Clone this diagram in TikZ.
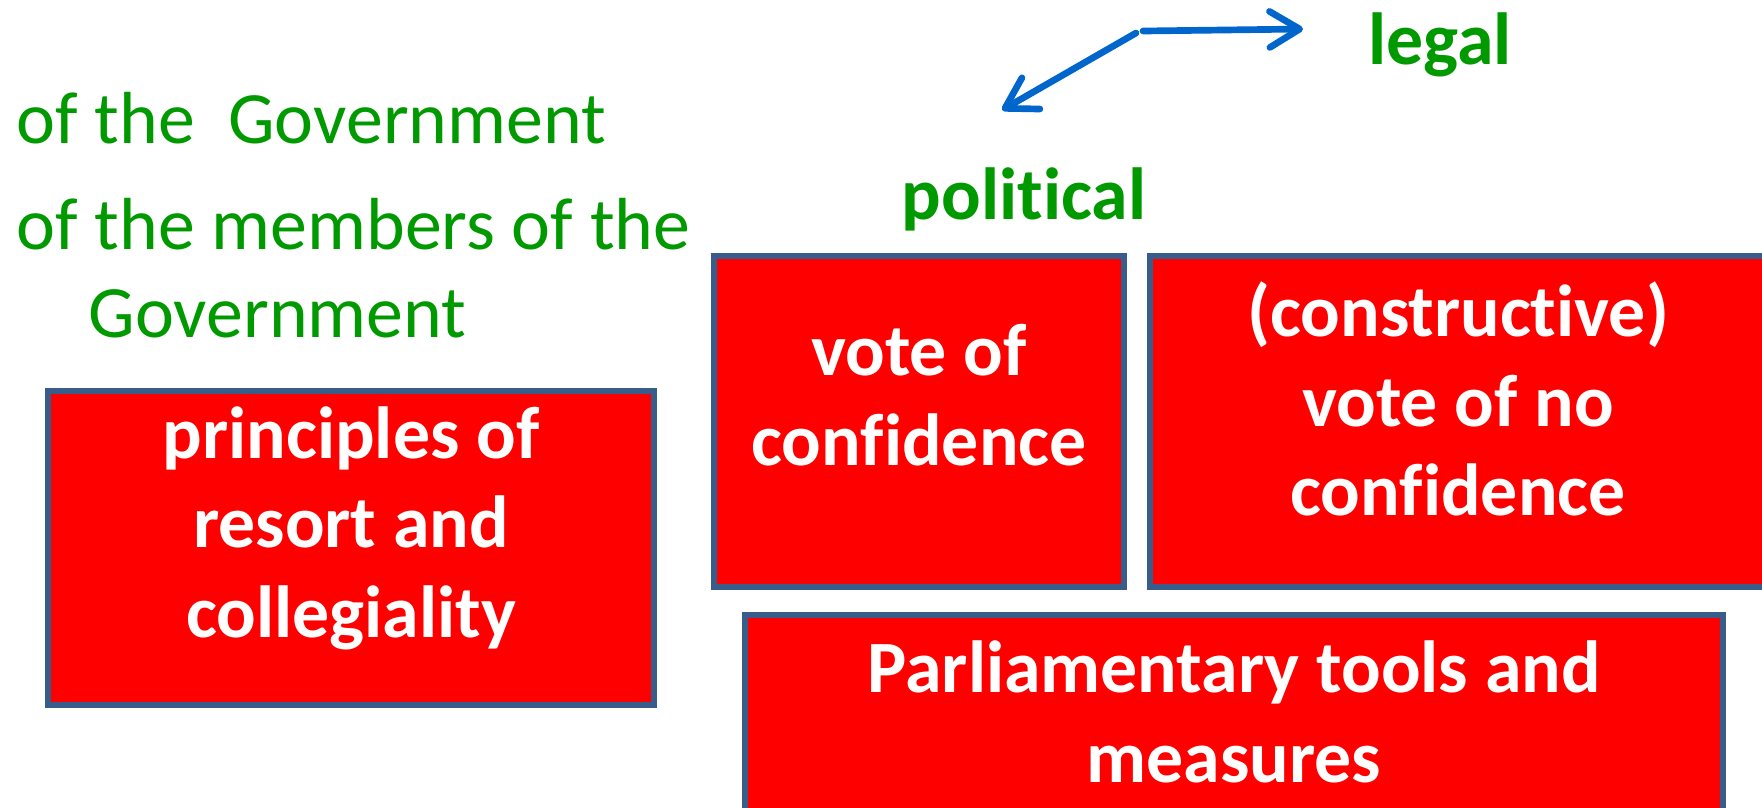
\documentclass[tikz,border=0pt]{standalone}
\usepackage{fontspec}
\setmainfont{Carlito}[Ligatures=NoCommon]
\usetikzlibrary{positioning}
\usetikzlibrary{arrows.meta}
\definecolor{boxred}{RGB}{255,0,0}
\definecolor{boxedge}{RGB}{56,93,138}
\definecolor{labelgreen}{RGB}{0,153,0}
\definecolor{arrowblue}{RGB}{0,102,204}

\begin{document}
\begin{tikzpicture}[every node/.style={font=\fontsize{21}{25.5}\selectfont},
    redbox/.style={draw=boxedge, line width=1.5pt, fill=boxred, inner sep=0pt},
    boxtext/.style={text=white, font=\fontsize{21}{25.5}\selectfont\bfseries, align=center, inner sep=0pt},
    greentext/.style={text=labelgreen, inner sep=0pt},
    greenbold/.style={greentext, font=\fontsize{21}{25.5}\selectfont\bfseries},
    blueline/.style={draw=arrowblue, line width=1.9pt, line cap=round, -{Straight Barb[length=0.3cm, width=0.36cm, round]}}]

                % Frame
                \useasboundingbox (0,0) rectangle (17.62,-8.07);

                % Green labels
                \node at (14.40,-0.64) (legal) [greenbold, anchor=base] {legal};
                \node at (10.24,-2.19) (political) [greenbold, anchor=base] {political};
                \node at (0.16,-1.43) (govone) [greentext, anchor=base west] {of the~~Government};
                \node at (0.16,-2.49) (govtwo) [greentext, anchor=base west] {of the members of the};
                \node at (0.88,-3.37) (govthree) [greentext, anchor=base west] {Government};

                % Boxes
                \node at (3.51,-5.48) (resortbox) [redbox, minimum width=6.06cm, minimum height=3.14cm] {};
                \node at (9.19,-4.215) (confbox) [redbox, minimum width=4.10cm, minimum height=3.31cm] {};
                \node at (14.58,-4.215) (noconfbox) [redbox, minimum width=6.16cm, minimum height=3.31cm] {};
                \node at (12.34,-7.275) (parlbox) [redbox, minimum width=9.78cm, minimum height=2.25cm] {};

                % Box texts
                \node at ([yshift=0.20cm]resortbox.center) (resorttext) [boxtext] {principles of\\resort and\\collegiality};
                \node at ([yshift=0.265cm]confbox.center) (conftext) [boxtext] {vote of\\confidence};
                \node at ([yshift=0.225cm]noconfbox.center) (noconftext) [boxtext] {(constructive)\\vote of no\\confidence};
                \node at ([yshift=0.155cm]parlbox.center) (parltext) [boxtext] {Parliamentary tools and\\measures};

                % Arrows
                \coordinate (hubdiag) at (11.36,-0.33);
                \coordinate (hubhoriz) at (11.43,-0.31);
                \coordinate (tipdiag) at (10.02,-1.10);
                \coordinate (tiphoriz) at (13.03,-0.29);
                \draw[blueline] (hubdiag) -- (tipdiag);
                \draw[blueline] (hubhoriz) -- (tiphoriz);

            \end{tikzpicture}
\end{document}
